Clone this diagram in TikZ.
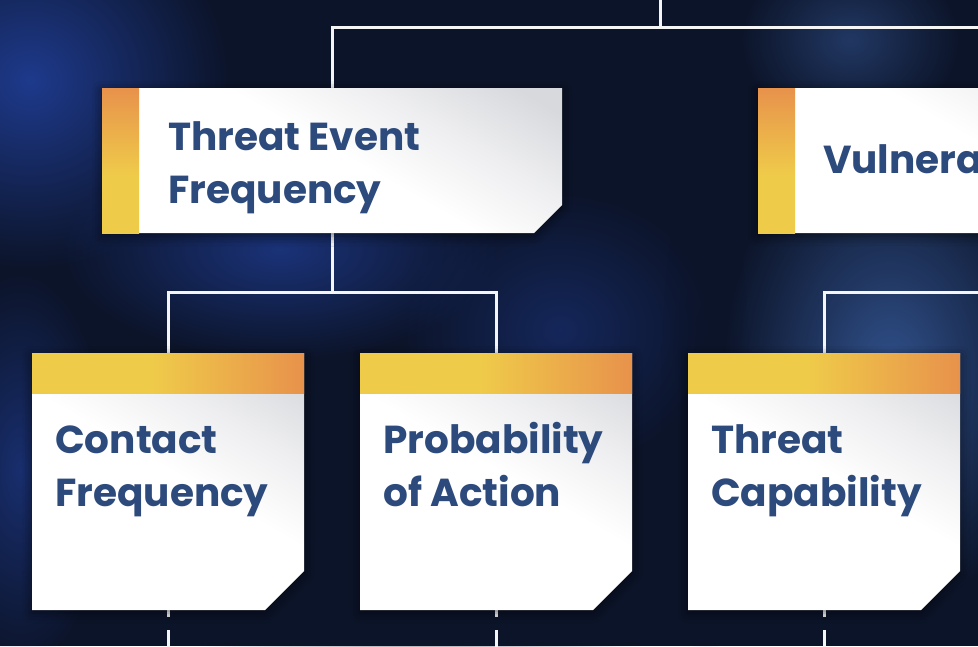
\documentclass[tikz,border=0pt]{standalone}
\usepackage{fontspec}
\setmainfont{Poppins}
\usetikzlibrary{fadings,shadows.blur}
\tikzfading[name=softblob, inner color=transparent!0, outer color=transparent!100]
\definecolor{bg}{HTML}{0C1429}
\definecolor{navy}{HTML}{2D4A7C}
\definecolor{orng}{HTML}{E8924B}
\definecolor{yel}{HTML}{EFCB4A}
\definecolor{pale}{HTML}{D8D9DD}
\definecolor{blob1}{HTML}{1E3A8C}
\definecolor{blob2}{HTML}{30508A}
\pgfdeclarehorizontalshading{boxwhite}{100bp}{color(0bp)=(white); color(52bp)=(white); color(66bp)=(white!55!pale); color(80bp)=(pale); color(100bp)=(pale)}
\pgfdeclareverticalshading{stripv}{100bp}{color(0bp)=(yel); color(45bp)=(yel); color(75bp)=(orng); color(100bp)=(orng)}
\pgfdeclarehorizontalshading{striph}{100bp}{color(0bp)=(yel); color(47bp)=(yel); color(75bp)=(orng); color(100bp)=(orng)}
\begin{document}
\begin{tikzpicture}[x=1pt,y=-1pt,
  anchorbox/.style={inner sep=0pt, outer sep=0pt},
  wire/.style={draw=white!92!gray, line width=3pt},
  lbl/.style={text=navy, font=\fontsize{39}{53}\selectfont\bfseries, inner sep=0pt, anchor=base west},
  whitepart/.style={shading=boxwhite, shading angle=60,
     blur shadow={shadow xshift=0pt, shadow yshift=-3pt, shadow blur radius=10pt, shadow opacity=55}},
  vstrip/.style={shading=stripv},
  hstrip/.style={shading=striph}
]
\useasboundingbox (0,0) rectangle (978,646);
\clip (0,0) rectangle (978,646);
% background
\fill[bg] (0,0) rectangle (978,646);
\fill[blob1, path fading=softblob] (30,80) ellipse (200 and 190);
\fill[blob1, opacity=0.8, path fading=softblob] (280,250) ellipse (220 and 110);
\fill[blob1, opacity=0.7, path fading=softblob] (20,470) ellipse (90 and 200);
\fill[blob1, opacity=0.5, path fading=softblob] (560,330) ellipse (160 and 140);
\fill[blob2, path fading=softblob] (890,370) ellipse (170 and 240);
\fill[blob2, opacity=0.6, path fading=softblob] (850,40) ellipse (110 and 90);
\fill[bg, opacity=0.8, path fading=softblob] (705,400) ellipse (45 and 260);
\fill[bg, opacity=0.6, path fading=softblob] (420,600) ellipse (260 and 90);

% anchor nodes for boxes
\node[anchorbox, minimum width=460pt, minimum height=145pt] (tef) at (332,160.5) {};
\node[anchorbox, minimum width=460pt, minimum height=145pt] (vul) at (988,160.5) {};
\node[anchorbox, minimum width=272pt, minimum height=257pt] (cf) at (168,481.5) {};
\node[anchorbox, minimum width=272pt, minimum height=257pt] (pa) at (496,481.5) {};
\node[anchorbox, minimum width=272pt, minimum height=257pt] (tc) at (824,481.5) {};
\coordinate (topin) at (660,0);

% connectors
\draw[wire] (topin) -- (topin |- 0,27);
\draw[wire] (tef.north) -- ++(0,-61) -| (vul.north);
\draw[wire] (tef.south) -- ++(0,59) -| (cf.north);
\draw[wire] (tef.south) -- ++(0,59) -| (pa.north);
\draw[wire] (vul.south) -- ++(0,59) -| (tc.north);
\foreach \b in {cf,pa,tc}
  \draw[wire, dash pattern=on 7pt off 13pt on 40pt] (\b.south) -- ++(0,40);

% horizontal-type boxes
\foreach \b in {tef,vul}{
  \shade[whitepart] (\b.north west) -- (\b.north east) -- ([yshift=28pt]\b.south east)
     -- ([xshift=-28pt]\b.south east) -- (\b.south west) -- cycle;
  \shade[vstrip] (\b.north west) rectangle ([xshift=37pt]\b.south west);
}
% vertical-type boxes
\foreach \b in {cf,pa,tc}{
  \shade[whitepart] (\b.north west) -- (\b.north east) -- ([yshift=39pt]\b.south east)
     -- ([xshift=-39pt]\b.south east) -- (\b.south west) -- cycle;
  \shade[hstrip] (\b.north west) rectangle ([yshift=-40pt]\b.north east);
}

% labels
\node[lbl] (tefA) at (168,150) {Threat Event};
\node[lbl] (tefB) at (168,203) {Frequency};
\node[lbl] (vulA) at (823,173) {Vulnerability};
\node[lbl] (cfA) at (55,453) {Contact};
\node[lbl] (cfB) at (55,506) {Frequency};
\node[lbl] (paA) at (383,453) {Probability};
\node[lbl] (paB) at (383,506) {of Action};
\node[lbl] (tcA) at (711,453) {Threat};
\node[lbl] (tcB) at (711,506) {Capability};
\end{tikzpicture}
\end{document}
